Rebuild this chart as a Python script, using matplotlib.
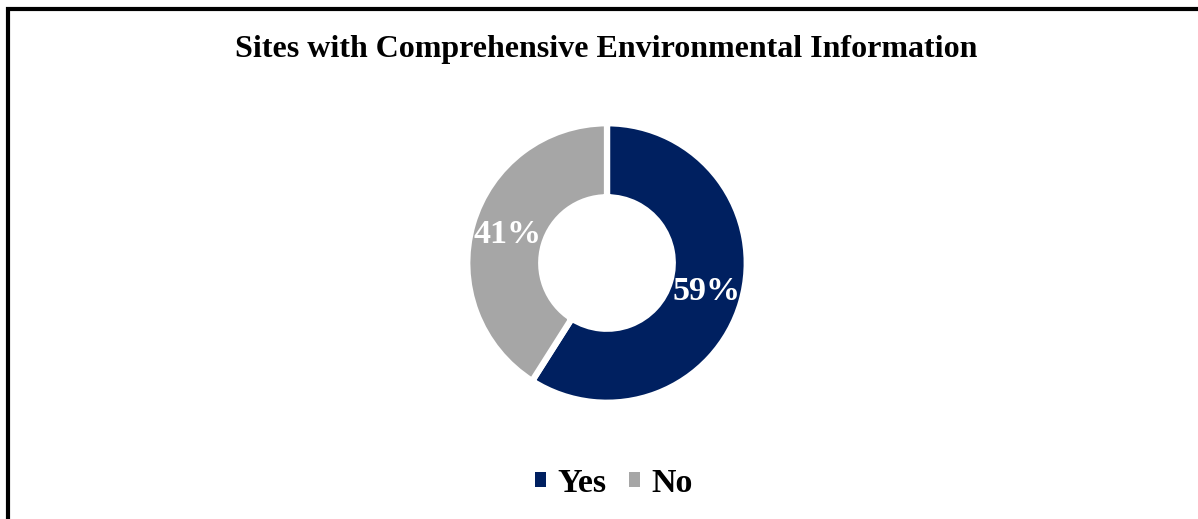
import matplotlib
matplotlib.use("Agg")
import matplotlib.pyplot as plt
from matplotlib.patches import Rectangle, Patch

categories = ["Yes", "No"]
values = [59, 41]
colors = ["#002060", "#A6A6A6"]
title = "Sites with Comprehensive Environmental Information"

W, H = 1198, 519
fig = plt.figure(figsize=(W / 100, H / 100), dpi=100)
fig.patch.set_facecolor("white")

serif = ["Liberation Serif", "DejaVu Serif"]

# donut axes
cx, cy, half = 607, 519 - 263, 145
ax = fig.add_axes([(cx - half) / W, (cy - half) / H, 2 * half / W, 2 * half / H])
lim = half / 137
ax.set_aspect("equal")
ax.axis("off")

wedges, texts, autotexts = ax.pie(
    values, colors=colors, startangle=90, counterclock=False,
    autopct=lambda p: f"{p:.0f}%", pctdistance=0.74, radius=1.02,
    wedgeprops=dict(width=0.54, edgecolor="white", linewidth=4.5),
    textprops=dict(color="white", fontsize=24.5, fontweight="bold", family=serif),
)
ax.set_xlim(-lim, lim)
ax.set_ylim(-lim, lim)

fig.text(606 / W, 1 - 49 / H, title, ha="center", va="center",
         fontsize=23, fontweight="bold", family=serif)

handles = [Patch(facecolor=c, edgecolor="none") for c in colors]
fig.legend(handles, categories, loc="center", bbox_to_anchor=(614 / W, 1 - 483 / H),
           ncol=2, frameon=False, prop=dict(family=serif, weight="bold", size=24.5),
           handlelength=0.32, handleheight=0.32, handletextpad=0.32, columnspacing=0.68)

# frame (left and top edges visible, right/bottom cropped)
fig.patches.append(Rectangle((8 / W, -0.1), 1.2, (519 - 9) / H + 0.1,
                             transform=fig.transFigure, fill=False,
                             edgecolor="black", linewidth=3, zorder=10))

fig.savefig("out.png", dpi=100)
